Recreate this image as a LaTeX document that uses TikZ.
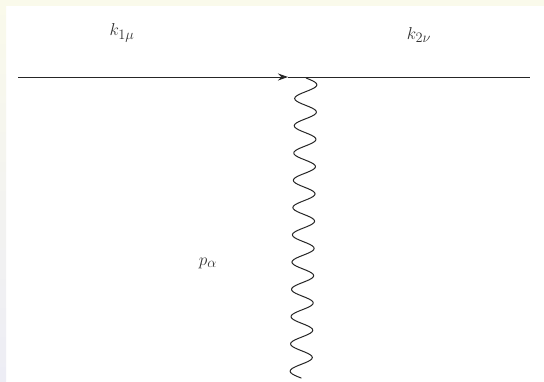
\documentclass[tikz,border=0pt]{standalone}
\usetikzlibrary{arrows.meta}
\definecolor{topband}{HTML}{FAFAEB}
\definecolor{leftband}{HTML}{EDEDF5}
\tikzset{
  fermion/.style={line width=1pt, draw=black!85},
  photon/.style={line width=1pt, draw=black!85, line join=round},
  lbl/.style={font=\fontsize{19}{22}\selectfont, text=black!80, inner sep=0pt}
}
\begin{document}
\begin{tikzpicture}[x=1pt,y=-1pt]
\useasboundingbox (0,0) rectangle (544,381);
\fill[white] (0,0) rectangle (544,381);
\fill[topband] (0,0) rectangle (544,6);
\shade[top color=topband, bottom color=leftband] (0,0) rectangle (6,381);
\coordinate (a) at (18,77);
\coordinate (m) at (288,77);
\coordinate (b) at (530,77);
\coordinate (v) at (306,78);
\coordinate (w) at (301,378);
\draw[fermion, -{Stealth[length=10pt,width=7pt]}] (a) -- (m);
\draw[fermion] (m) -- (b);
\draw[photon] (v) -- plot[smooth, samples=221, domain=0:300, variable=\t]
  ({306-\t/60 + 11*sin(13.2013*\t)}, {78+\t}) -- (w);
\node[lbl] (k1) at (122,33) {$k_{1\mu}$};
\node[lbl] (k2) at (419,35) {$k_{2\nu}$};
\node[lbl] (p) at (208,263) {$p_\alpha$};
\end{tikzpicture}
\end{document}
